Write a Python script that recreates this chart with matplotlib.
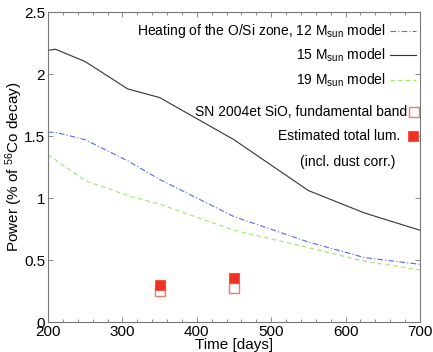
import matplotlib
matplotlib.use('Agg')
import matplotlib.pyplot as plt
from matplotlib.ticker import MultipleLocator

plt.rcParams['font.family'] = ['Liberation Sans', 'DejaVu Sans']
plt.rcParams['mathtext.fontset'] = 'custom'
plt.rcParams['mathtext.rm'] = 'Liberation Sans'
plt.rcParams['mathtext.it'] = 'Liberation Sans:italic'

# model heating curves (% of 56Co decay power)
days12 = [200, 210, 250, 307, 350, 450, 550, 625, 700]
heat12 = [1.53, 1.53, 1.47, 1.30, 1.15, 0.85, 0.645, 0.52, 0.465]
days15 = [200, 210, 250, 307, 350, 450, 550, 625, 700]
heat15 = [2.19, 2.20, 2.10, 1.88, 1.81, 1.47, 1.06, 0.88, 0.74]
days19 = [200, 250, 307, 350, 450, 550, 625, 700]
heat19 = [1.35, 1.14, 1.02, 0.95, 0.74, 0.60, 0.49, 0.42]

# SN 2004et observations
obs_days = [350, 450]
sio_band = [0.25, 0.275]
total_lum = [0.295, 0.355]

blue = '#4f6cf5'
green = '#9be86a'
dark = '#333333'
red = '#ee3322'
pink = '#f07a6a'

fig = plt.figure(figsize=(4.33, 3.52), dpi=100)
ax = fig.add_axes([48/433, 30/352, 372/433, 310/352])

ax.plot(days12, heat12, color=blue, lw=0.8, dashes=(5, 2, 1, 2))
ax.plot(days15, heat15, color=dark, lw=0.8)
ax.plot(days19, heat19, color=green, lw=0.8, dashes=(4, 3))

ax.plot(obs_days, sio_band, 's', ms=6.5, mfc='white', mec=pink, mew=1.0)
ax.plot(obs_days, total_lum, 's', ms=6.5, mfc=red, mec='#f05545', mew=0.8)

ax.set_xlim(200, 700)
ax.set_ylim(0, 2.5)
ax.xaxis.set_major_locator(MultipleLocator(100))
ax.xaxis.set_minor_locator(MultipleLocator(20))
ax.set_yticks([0, 0.5, 1, 1.5, 2, 2.5])
ax.set_yticklabels(['0', '0.5', '1', '1.5', '2', '2.5'])
ax.tick_params(which='both', direction='in', top=True, right=True,
               colors='#777777', labelcolor='black', labelsize=11)
ax.tick_params(which='major', length=3.5, width=0.6)
ax.tick_params(which='minor', length=2, width=0.6)
ax.tick_params(axis='x', pad=2)
ax.tick_params(axis='y', pad=2)
for s in ax.spines.values():
    s.set_color('#777777')
    s.set_linewidth(0.8)

ax.set_xlabel('Time [days]', fontsize=11)
ax.xaxis.set_label_coords(0.5, -0.05)
ax.set_ylabel(r'Power (% of $^{56}$Co decay)', fontsize=11)
ax.yaxis.set_label_coords(-0.062, 0.5)

# hand-made legend on the right side
tr = ax.transAxes
fs = 10
ax.text(0.909, 0.940, r'Heating of the O/Si zone, 12 M$_{\rm sun}$ model',
        transform=tr, ha='right', va='center', fontsize=fs)
ax.plot([0.919, 0.989], [0.940, 0.940], transform=tr, color=blue, lw=0.8,
        dashes=(5, 2, 1, 2))
ax.text(0.909, 0.861, r'15 M$_{\rm sun}$ model', transform=tr,
        ha='right', va='center', fontsize=fs)
ax.plot([0.919, 0.989], [0.861, 0.861], transform=tr, color=dark, lw=0.8)
ax.text(0.909, 0.781, r'19 M$_{\rm sun}$ model', transform=tr,
        ha='right', va='center', fontsize=fs)
ax.plot([0.919, 0.989], [0.781, 0.781], transform=tr, color=green, lw=0.8,
        dashes=(4, 3))
ax.text(0.965, 0.677, 'SN 2004et SiO, fundamental band', transform=tr,
        ha='right', va='center', fontsize=fs)
ax.plot([0.983], [0.677], 's', transform=tr, ms=6.5, mfc='white', mec=pink,
        mew=1.0, clip_on=False)
ax.text(0.946, 0.600, 'Estimated total lum.', transform=tr,
        ha='right', va='center', fontsize=fs)
ax.plot([0.980], [0.600], 's', transform=tr, ms=6.5, mfc=red, mec='#f05545',
        mew=0.8, clip_on=False)
ax.text(0.935, 0.516, '(incl. dust corr.)', transform=tr,
        ha='right', va='center', fontsize=fs)

fig.savefig('out.png', dpi=100)
